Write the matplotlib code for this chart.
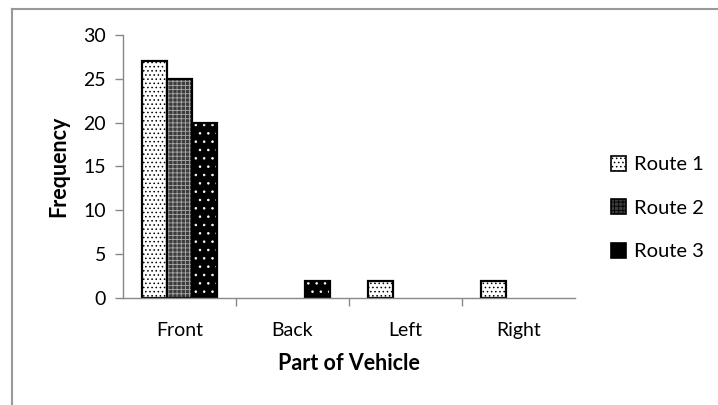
import numpy as np
import matplotlib.pyplot as plt
from matplotlib.patches import Patch
from matplotlib.lines import Line2D

plt.rcParams['font.family'] = ['Lato', 'DejaVu Sans']
plt.rcParams['hatch.linewidth'] = 0.6

# Data
parts = ['Front', 'Back', 'Left', 'Right']
route1 = [27, 0, 2, 2]
route2 = [25, 0, 0, 0]
route3 = [20, 2, 0, 0]

series = [
    ('Route 1', route1, 'white', 'black', '....'),
    ('Route 2', route2, '#3c3c3c', '#aaaaaa', '++++'),
    ('Route 3', route3, 'black', 'white', '..'),
]

fig = plt.figure(figsize=(7.18, 4.05), dpi=100)
ax = fig.add_axes([0.171, 0.264, 0.630, 0.650])

x = np.arange(len(parts))
width = 0.221
handles = []
for i, (name, vals, face, hcol, hatch) in enumerate(series):
    vals = np.array(vals, dtype=float)
    keep = vals > 0
    pos = (x + (i - 1) * width)[keep]
    # fill + hatch first, then the black outline on top
    ax.bar(pos, vals[keep], width, color=face, edgecolor=hcol, hatch=hatch, linewidth=0)
    ax.bar(pos, vals[keep], width, fill=False, edgecolor='black', linewidth=1.6)
    handles.append(Patch(facecolor=face, edgecolor=hcol, hatch=hatch, linewidth=0, label=name))

ax.set_xlim(-0.5, len(parts) - 0.5)
ax.set_ylim(0, 30)
ax.set_yticks(range(0, 31, 5))
ax.set_xticks(x)
ax.set_xticklabels(parts)
ax.set_xticks(np.arange(0.5, len(parts) - 0.5, 1), minor=True)
ax.tick_params(axis='x', which='major', length=0, pad=17, labelsize=14)
ax.tick_params(axis='x', which='minor', length=6, color='#888888', width=1)
ax.tick_params(axis='y', length=6, color='#888888', width=1, labelsize=14, pad=6)

for s in ['top', 'right']:
    ax.spines[s].set_visible(False)
for s in ['left', 'bottom']:
    ax.spines[s].set_color('#888888')
    ax.spines[s].set_linewidth(1)

ax.set_ylabel('Frequency', fontsize=15.5, fontweight='bold', labelpad=10)
ax.set_xlabel('Part of Vehicle', fontsize=15.5, fontweight='bold', labelpad=10)

leg = fig.legend(handles=handles, loc='center left', bbox_to_anchor=(0.851, 0.486),
                 frameon=False, fontsize=14.5, handlelength=0.75, handleheight=0.75,
                 labelspacing=1.3, handletextpad=0.4, borderpad=0, borderaxespad=0)
for h in leg.legend_handles:
    h.set_edgecolor('black')
    h.set_linewidth(1.2)

# chart border (top and left edges visible in the cropped screenshot)
fig.add_artist(Line2D([12 / 718, 12 / 718], [0, 1 - 9 / 405], transform=fig.transFigure,
                      color='#999999', linewidth=1.5))
fig.add_artist(Line2D([12 / 718, 1], [1 - 9 / 405, 1 - 9 / 405], transform=fig.transFigure,
                      color='#999999', linewidth=1.5))

fig.savefig('out.png', dpi=100)
